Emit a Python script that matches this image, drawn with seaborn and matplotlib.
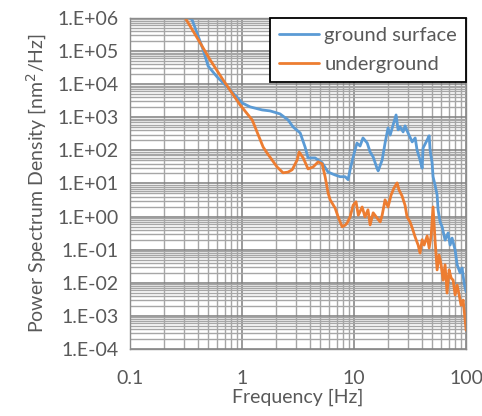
import numpy as np
import pandas as pd
import matplotlib
matplotlib.use("Agg")
import matplotlib.pyplot as plt
import seaborn as sns
from matplotlib.ticker import LogLocator, FuncFormatter, NullFormatter

# Спектры (частота в Гц, PSD в nm^2/Hz)
surface_freq = [0.34, 0.358, 0.449, 0.497, 0.598, 0.782, 1.0, 1.18, 1.51, 1.78, 2.18, 2.57,
                2.85, 3.30, 3.65, 3.88, 4.22, 4.49, 4.77, 5.18, 5.86, 6.77, 7.50, 8.32, 8.83,
                9.21, 9.80, 10.6, 11.3, 12.0, 13.1, 13.9, 14.8, 16.0, 16.4, 17.8, 18.9, 20.1,
                21.0, 22.3, 23.7, 24.7, 25.8, 27.4, 28.5, 30.3, 33.0, 35.1, 36.5, 38.8, 40.5,
                41.3, 44.9, 46.8, 47.7, 49.7, 50.7, 52.8, 55.1, 56.2, 58.6, 61.1, 64.9, 69.1,
                72.0, 75.0, 79.8, 83.2, 88.4, 92.1, 96.0, 100.0]
surface_psd = [1.0e6, 8.7e5, 1.08e5, 3.5e4, 1.65e4, 6.7e3, 2.7e3, 2.05e3, 1.66e3, 1.55e3, 1.26e3, 830,
               510, 335, 126, 59, 59, 59, 51, 42, 22, 18, 16, 16, 13,
               26, 63, 166, 135, 237, 166, 89, 63, 29, 24, 51, 166, 475,
               290, 590, 1170, 415, 510, 360, 550, 335, 180, 237, 102, 51, 29,
               118, 205, 275, 102, 42, 16, 9, 4.5, 1.6, 0.69, 0.49, 0.195, 0.32,
               0.138, 0.224, 0.098, 0.035, 0.020, 0.028, 0.0098, 0.0053]

under_freq = [0.31, 0.422, 0.518, 0.676, 0.959, 1.23, 1.54, 1.67, 2.05, 2.32, 2.57, 2.80,
              3.10, 3.23, 3.51, 3.88, 4.31, 4.77, 5.18, 5.51, 5.86, 6.11, 6.77, 7.20, 7.82,
              8.32, 8.67, 9.21, 9.80, 10.4, 10.9, 11.8, 12.5, 13.3, 13.9, 14.8, 16.0, 17.1,
              17.8, 18.9, 20.1, 21.4, 22.7, 24.2, 25.2, 26.8, 28.5, 29.7, 31.6, 33.0, 35.1,
              37.3, 38.8, 40.5, 42.2, 44.9, 46.8, 48.8, 50.7, 52.8, 55.1, 57.4, 59.8, 62.4,
              64.9, 67.6, 70.5, 73.5, 76.6, 79.8, 83.2, 86.7, 90.2, 94.1, 98.0, 100.0]
under_psd = [1.0e6, 1.76e5, 5.4e4, 1.34e4, 2.35e3, 830, 126, 83, 31.6, 21, 22, 26,
             51, 89, 59, 27.5, 31.6, 45, 39, 16, 5.1, 3.2, 1.8, 0.98, 0.49,
             0.55, 0.64, 0.98, 2.2, 2.8, 1.1, 1.95, 0.98, 1.6, 0.56, 1.3, 0.91, 0.69,
             1.1, 3.2, 1.95, 4.5, 7.3, 10.4, 6.3, 4.2, 2.2, 0.98, 0.69, 0.46, 0.24,
             0.138, 0.079, 0.2, 0.138, 0.26, 0.112, 0.28, 1.95, 0.2, 0.0245, 0.069, 0.035, 0.012,
             0.035, 0.0049, 0.0245, 0.014, 0.012, 0.0043, 0.0085, 0.0043, 0.0021, 0.003, 7.6e-4, 3.7e-4]

series_names = ["ground surface", "underground"]
series_colors = ["#5B9BD5", "#ED7D31"]

df = pd.concat([
    pd.DataFrame({"freq": surface_freq, "psd": surface_psd, "series": series_names[0]}),
    pd.DataFrame({"freq": under_freq, "psd": under_psd, "series": series_names[1]}),
])

sns.set_theme(style="white")
plt.rcParams["font.family"] = ["Lato", "DejaVu Sans"]
text_color = "#595959"

fig = plt.figure(figsize=(4.82, 4.16), dpi=100)
ax = fig.add_axes([0.270, 0.161, 0.697, 0.796])

sns.lineplot(data=df, x="freq", y="psd", hue="series", hue_order=series_names,
             palette=dict(zip(series_names, series_colors)), estimator=None, sort=False,
             linewidth=2.0, ax=ax)

ax.set_xscale("log")
ax.set_yscale("log")
ax.set_xlim(0.1, 100)
ax.set_ylim(1e-4, 1e6)

# сетка в стиле Excel
ax.xaxis.set_major_locator(LogLocator(base=10, numticks=10))
ax.xaxis.set_minor_locator(LogLocator(base=10, subs=np.arange(2, 10), numticks=50))
ax.yaxis.set_major_locator(LogLocator(base=10, numticks=20))
ax.yaxis.set_minor_locator(LogLocator(base=10, subs=np.arange(2, 10), numticks=100))
ax.xaxis.set_minor_formatter(NullFormatter())
ax.yaxis.set_minor_formatter(NullFormatter())
ax.xaxis.set_major_formatter(FuncFormatter(lambda v, p: f"{v:g}"))
ax.yaxis.set_major_formatter(FuncFormatter(lambda v, p: f"1.E{int(round(np.log10(v))):+03d}"))

ax.grid(which="major", color="#7f7f7f", linewidth=1.1)
ax.grid(which="minor", color="#a6a6a6", linewidth=1.0)
ax.set_axisbelow(True)
for s in ax.spines.values():
    s.set_color("#8c8c8c")
    s.set_linewidth(1.0)

ax.tick_params(which="both", length=0, labelsize=14, colors=text_color)
ax.tick_params(axis="x", pad=15)
ax.tick_params(axis="y", pad=8)

ax.set_xlabel("Frequency [Hz]", fontsize=14, color=text_color, labelpad=1)
ax.set_ylabel("Power Spectrum Density [nm$^2$/Hz]", fontsize=14, color=text_color, labelpad=6)

leg = ax.legend(loc="upper right", fontsize=14.5, frameon=True, fancybox=False,
                borderaxespad=0.0, handlelength=2.0, handletextpad=0.25,
                labelspacing=0.6, borderpad=0.45)
leg.get_frame().set_edgecolor("black")
leg.get_frame().set_linewidth(1.3)
leg.get_frame().set_alpha(1.0)
for t in leg.get_texts():
    t.set_color(text_color)

fig.savefig("out.png", dpi=100)
